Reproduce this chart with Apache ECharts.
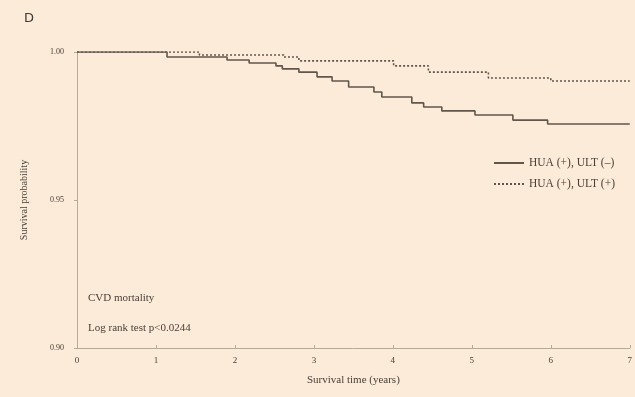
<!DOCTYPE html>
<html>
<head>
<meta charset="utf-8">
<script src="https://cdn.jsdelivr.net/npm/echarts@6/dist/echarts.min.js"></script>
<style>
  html, body { margin: 0; padding: 0; background: #fbebd8; }
  #chart { width: 635px; height: 397px; }
</style>
</head>
<body>
<div id="chart"></div>
<script>
// Kaplan-Meier steps (years, survival probability)
var solidTimes = [0, 1.14, 1.90, 2.18, 2.52, 2.60, 2.81, 3.04, 3.23, 3.44, 3.76, 3.86, 4.24, 4.39, 4.62, 5.04, 5.52, 5.96, 7.0];
var solidSurv  = [1.000, 0.9983, 0.9973, 0.9963, 0.9953, 0.9943, 0.9932, 0.9916, 0.9902, 0.9882, 0.9865, 0.9848, 0.9828, 0.9814, 0.9801, 0.9787, 0.9770, 0.9757, 0.9757];
var dashTimes  = [0, 1.55, 2.62, 2.81, 4.01, 4.45, 5.21, 6.00, 7.0];
var dashSurv   = [1.000, 0.9990, 0.9983, 0.9970, 0.9953, 0.9932, 0.9912, 0.9902, 0.9902];
var xTicks = [0, 1, 2, 3, 4, 5, 6, 7];
var seriesNames = ['HUA (+), ULT (\u2013)', 'HUA (+), ULT (+)'];

function pairs(t, s) {
    return t.map(function (v, i) { return [v, s[i]]; });
}

var serif = '"Liberation Serif", "DejaVu Serif", serif';
var ink = '#4a4038';
var lineColor = '#61564b';
var axisColor = '#b5a998';

var chart = echarts.init(document.getElementById('chart'));
chart.setOption({
    backgroundColor: '#fbebd8',
    animation: false,
    grid: { left: 77, right: 3, top: 52, bottom: 49, containLabel: false },
    xAxis: {
        type: 'value',
        min: xTicks[0],
        max: xTicks[xTicks.length - 1],
        interval: 1,
        name: 'Survival time (years)',
        nameLocation: 'middle',
        nameGap: 27,
        nameTextStyle: { fontFamily: serif, fontSize: 11, color: ink },
        axisLine: { lineStyle: { color: axisColor, width: 1 } },
        axisTick: { show: true, inside: true, length: 3, lineStyle: { color: axisColor } },
        axisLabel: { fontFamily: serif, fontSize: 9, color: ink, margin: 8 },
        splitLine: { show: false }
    },
    yAxis: {
        type: 'value',
        min: 0.90,
        max: 1.00,
        interval: 0.05,
        name: 'Survival probability',
        nameLocation: 'middle',
        nameGap: 48,
        nameTextStyle: { fontFamily: serif, fontSize: 10, color: ink },
        axisLine: { show: true, lineStyle: { color: axisColor, width: 1 } },
        axisTick: { show: true, length: 3, lineStyle: { color: axisColor } },
        axisLabel: {
            fontFamily: serif, fontSize: 8, color: ink, margin: 13,
            formatter: function (v) { return v.toFixed(2); }
        },
        splitLine: { show: false }
    },
    legend: {
        orient: 'vertical',
        left: 488,
        top: 152,
        itemWidth: 30,
        itemHeight: 10,
        itemGap: 9,
        itemStyle: { opacity: 0 },
        textStyle: { fontFamily: serif, fontSize: 11.5, color: ink },
        data: seriesNames
    },
    series: [{
        name: seriesNames[0],
        type: 'line',
        step: 'end',
        symbol: 'none',
        data: pairs(solidTimes, solidSurv),
        lineStyle: { color: lineColor, width: 1.6 },
        itemStyle: { color: lineColor }
    }, {
        name: seriesNames[1],
        type: 'line',
        step: 'end',
        symbol: 'none',
        data: pairs(dashTimes, dashSurv),
        lineStyle: { color: lineColor, width: 1.6, type: [2, 2] },
        itemStyle: { color: lineColor }
    }],
    graphic: [{
        type: 'text', left: 24, top: 12,
        style: { text: 'D', fontFamily: '"DejaVu Sans", sans-serif', fontSize: 13, fill: '#3e3a36' }
    }, {
        type: 'text', left: 88, top: 293,
        style: { text: 'CVD mortality', fontFamily: serif, fontSize: 11, fill: ink }
    }, {
        type: 'text', left: 88, top: 323,
        style: { text: 'Log rank test p<0.0244', fontFamily: serif, fontSize: 11, fill: ink }
    }]
});
</script>
</body>
</html>
